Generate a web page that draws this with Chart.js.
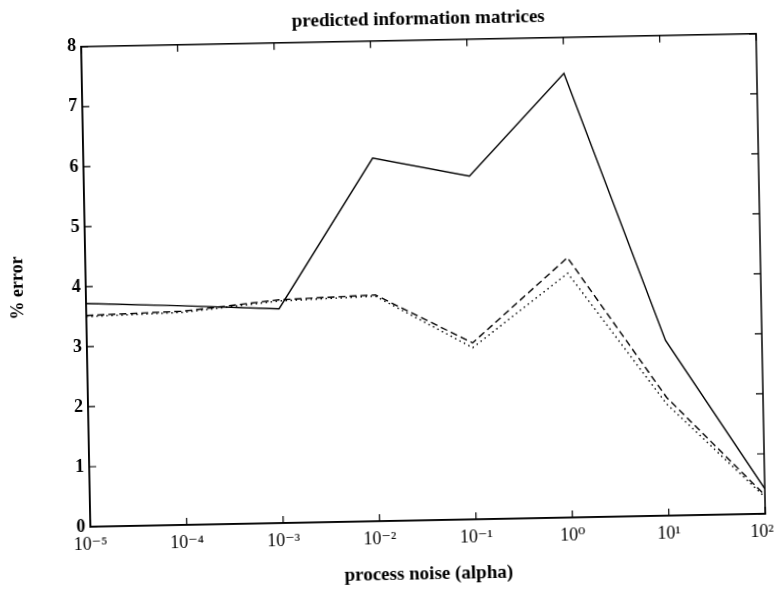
<!DOCTYPE html>
<html>
<head>
<meta charset="utf-8">
<script src="https://cdn.jsdelivr.net/npm/chart.js@4.4.1/dist/chart.umd.min.js"></script>
<style>
  html, body { margin: 0; padding: 0; background: #fff; }
  #wrap { position: relative; width: 775px; height: 591px; overflow: hidden; background: #fff; }
  #c { position: absolute; left: 0; top: 0; transform: rotate(-1.1deg); transform-origin: 50% 50%; }
</style>
</head>
<body>
<div id="wrap"><canvas id="c" width="775" height="591"></canvas></div>
<script>
// ---- data ----
const xExponents  = [-5, -4, -3, -2, -1, 0, 1, 2];
const xTickLabels = ['10⁻⁵', '10⁻⁴', '10⁻³', '10⁻²', '10⁻¹', '10⁰', '10¹', '10²'];
const yTickValues = [0, 1, 2, 3, 4, 5, 6, 7, 8];
const solidError  = [3.72, 3.65, 3.57, 6.05, 5.72, 7.40, 2.92, 0.42];
const dashedError = [3.52, 3.56, 3.72, 3.77, 2.94, 4.33, 1.97, 0.31];
const dottedError = [3.50, 3.54, 3.70, 3.75, 2.86, 4.07, 1.86, 0.28];

const titleText  = 'predicted information matrices';
const xTitleText = 'process noise (alpha)';
const yTitleText = '% error';

const SERIF = '"Liberation Serif", "DejaVu Serif", serif';

function toPoints(values) {
  return xExponents.map((e, i) => ({ x: Math.pow(10, e), y: values[i] }));
}

const frameTicks = {
  id: 'frameTicks',
  afterDatasetsDraw(chart) {
    const { ctx, chartArea: a, scales: { x, y } } = chart;
    ctx.save();
    ctx.strokeStyle = '#000';
    ctx.lineWidth = 1.5;
    ctx.strokeRect(a.left, a.top, a.right - a.left, a.bottom - a.top);
    ctx.lineWidth = 1.2;
    const len = 7;
    ctx.beginPath();
    x.ticks.forEach(t => {
      const px = x.getPixelForValue(t.value);
      ctx.moveTo(px, a.bottom); ctx.lineTo(px, a.bottom - len);
      ctx.moveTo(px, a.top);    ctx.lineTo(px, a.top + len);
    });
    y.ticks.forEach(t => {
      const py = y.getPixelForValue(t.value);
      ctx.moveTo(a.left, py);  ctx.lineTo(a.left + len, py);
      ctx.moveTo(a.right, py); ctx.lineTo(a.right - len, py);
    });
    ctx.stroke();
    ctx.restore();
  }
};

new Chart(document.getElementById('c'), {
  type: 'line',
  data: {
    datasets: [
      { data: toPoints(solidError),  borderColor: '#000', borderWidth: 1.4, pointRadius: 0, tension: 0, fill: false },
      { data: toPoints(dashedError), borderColor: '#000', borderWidth: 1.4, borderDash: [7, 4], pointRadius: 0, tension: 0, fill: false },
      { data: toPoints(dottedError), borderColor: '#000', borderWidth: 1.4, borderDash: [1.5, 3.5], pointRadius: 0, tension: 0, fill: false }
    ]
  },
  options: {
    responsive: false,
    animation: false,
    devicePixelRatio: 1,
    layout: { padding: { left: 0, right: 14, top: 0, bottom: 0 } },
    plugins: {
      legend: { display: false },
      tooltip: { enabled: false },
      title: {
        display: true,
        fullSize: false,
        text: titleText,
        color: '#000',
        font: { family: SERIF, size: 19, weight: 'bold' },
        padding: { top: 9, bottom: 9 }
      }
    },
    scales: {
      x: {
        type: 'logarithmic',
        min: Math.pow(10, xExponents[0]),
        max: Math.pow(10, xExponents[xExponents.length - 1]),
        afterBuildTicks: s => { s.ticks = xExponents.map(e => ({ value: Math.pow(10, e) })); },
        afterFit: s => { s.height = 70; s.paddingLeft = 0; s.paddingRight = 0; },
        grid: { display: false, drawTicks: false },
        border: { display: true, color: '#000', width: 1.5 },
        ticks: {
          autoSkip: false, maxRotation: 0, padding: 7, color: '#000',
          font: { family: SERIF, size: 18 },
          // last label is nudged left (trailing thin spaces) so it stays inside the page, as in the reference
          callback: (v, i) => i === xTickLabels.length - 1 ? xTickLabels[i] + '\u2009\u2009' : xTickLabels[i]
        },
        title: {
          display: true, text: xTitleText, color: '#000',
          font: { family: SERIF, size: 19, weight: 'bold' },
          padding: { top: 0, bottom: 5 }
        }
      },
      y: {
        type: 'linear',
        min: yTickValues[0],
        max: yTickValues[yTickValues.length - 1],
        afterBuildTicks: s => { s.ticks = yTickValues.map(v => ({ value: v })); },
        afterFit: s => { s.width = 86; s.paddingTop = 0; s.paddingBottom = 0; },
        grid: { display: false, drawTicks: false },
        border: { display: true, color: '#000', width: 1.5 },
        ticks: {
          padding: 5, color: '#000',
          font: { family: SERIF, size: 18, weight: 'bold' }
        },
        title: {
          display: true, text: yTitleText, color: '#000',
          font: { family: SERIF, size: 18, weight: 'bold' },
          padding: { top: 8, bottom: 0 }
        }
      }
    }
  },
  plugins: [frameTicks]
});
</script>
</body>
</html>
